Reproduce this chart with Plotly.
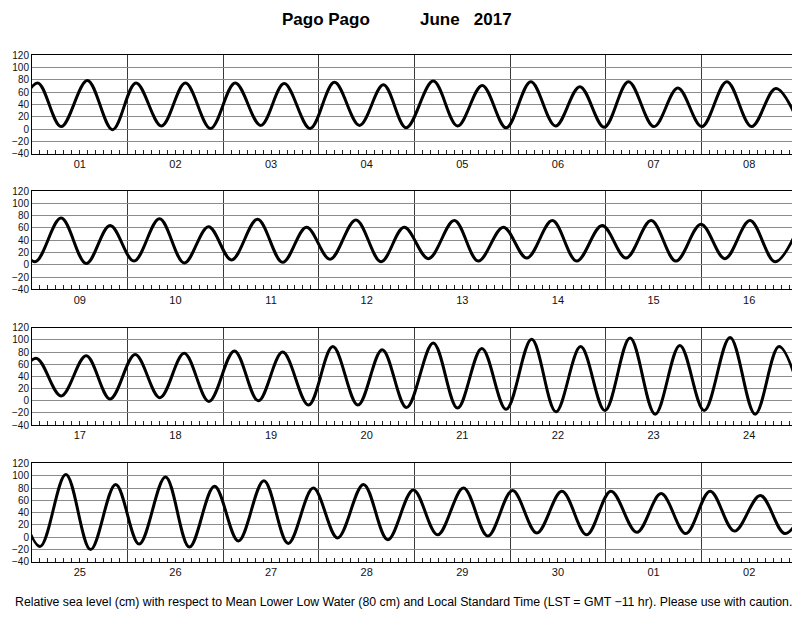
import pandas as pd
import plotly.graph_objects as go

# ---- data: tide extrema (hours after 2017-06-01 00:00 LST, height in cm) ----
start_date = "2017-06-01"
hours_days_01_08 = [-4.8, 1.4, 7.3, 13.9, 20.2, 26.1, 32.5, 38.5, 44.8, 51.0, 57.4, 63.3, 69.8,
                    75.9, 82.2, 88.2, 93.9, 100.7, 106.8, 113.0, 119.0, 125.2, 131.4, 137.5,
                    143.6, 149.7, 156.1, 162.1, 168.1, 174.4, 180.6, 186.7]
cm_days_01_08 = [2, 75, 4, 79, -1, 75, 5, 75, 1, 75, 6, 74, 1,
                 76, 6, 72, 2, 78, 5, 71, 2, 77, 5, 69,
                 3, 77, 4, 67, 4, 77, 4, 66]
hours_days_09_16 = [192.75, 199.3, 205.6, 211.6, 217.6, 224.0, 230.2, 236.3, 242.1, 248.6,
                    254.9, 260.9, 266.8, 273.3, 279.6, 285.4, 291.5, 298.0, 304.0, 310.3,
                    316.2, 322.6, 328.7, 335.1, 341.1, 347.4, 353.6, 359.9, 365.9, 372.2, 378.5]
cm_days_09_16 = [5, 76, 2, 64, 6, 75, 3, 62, 8, 74,
                 4, 61, 9, 73, 5, 61, 10, 72, 6, 61,
                 11, 72, 6, 64, 11, 72, 6, 66, 10, 72, 5]
hours_days_17_24 = [385.0, 391.3, 397.6, 403.6, 409.9, 416.1, 422.2, 428.4, 434.8, 440.8,
                    446.9, 453.4, 459.5, 465.8, 471.9, 478.0, 484.7, 490.8, 496.9, 503.0,
                    509.4, 515.5, 521.7, 527.8, 534.1, 540.4, 546.6, 552.7, 559.2, 565.5, 571.5]
cm_days_17_24 = [70, 8, 74, 3, 76, 5, 78, -1, 82, 0,
                 80, -7, 89, -7, 84, -11, 95, -12, 86, -14,
                 101, -18, 89, -16, 103, -22, 91, -16, 104, -22, 89]
hours_days_25_02 = [578.0, 584.5, 590.7, 597.0, 602.9, 609.5, 615.5, 621.8, 627.8, 634.2,
                    640.3, 646.6, 652.7, 659.2, 665.3, 671.7, 677.8, 684.3, 690.4, 696.6,
                    702.7, 709.0, 715.2, 721.3, 727.8, 733.9, 740.1, 746.2, 752.3, 758.8,
                    765.0, 771.3]
cm_days_25_02 = [-15, 102, -20, 86, -11, 98, -16, 83, -6, 92,
                 -10, 80, -1, 86, -4, 77, 4, 80, 2, 76,
                 7, 75, 4, 75, 8, 71, 6, 75, 10, 68,
                 6, 66]

panel_days = 8
title_place = "Pago Pago"
title_month = "June   2017"
footer = ("Relative sea level (cm) with respect to Mean Lower Low Water (80 cm) and Local "
          "Standard Time (LST = GMT \u221211 hr). Please use with caution.")

# ---- assemble ----
hours = hours_days_01_08 + hours_days_09_16 + hours_days_17_24 + hours_days_25_02
cms = cm_days_01_08 + cm_days_09_16 + cm_days_17_24 + cm_days_25_02
base = pd.Timestamp(start_date)
times = [base + pd.Timedelta(hours=h) for h in hours]

# the page body adds an 8 px margin, so the figure is sized to fit the window
OFF = 8
W, H = 800 - OFF, 618 - OFF
x0, x1 = (32 - OFF) / W, (797 - OFF) / W
panel_px = [(51, 151), (189, 289), (328, 427), (466, 566)]

FONT = "Liberation Sans, Arial, Helvetica, sans-serif"
fig = go.Figure()
layout = {}
for p, (top, bot) in enumerate(panel_px):
    top, bot = top - OFF, bot - OFF
    lo_h, hi_h = p * panel_days * 24, (p + 1) * panel_days * 24
    idx = [i for i, h in enumerate(hours) if lo_h <= h <= hi_h]
    i0, i1 = max(idx[0] - 1, 0), min(idx[-1] + 1, len(hours) - 1)
    sfx = "" if p == 0 else str(p + 1)
    fig.add_trace(go.Scatter(
        x=times[i0:i1 + 1], y=cms[i0:i1 + 1], mode="lines",
        line=dict(color="black", width=3, shape="spline", smoothing=1.0),
        xaxis="x" + sfx, yaxis="y" + sfx, showlegend=False, hoverinfo="skip"))
    layout["xaxis" + sfx] = dict(
        type="date", domain=[x0, x1], anchor="y" + sfx,
        range=[base + pd.Timedelta(hours=lo_h), base + pd.Timedelta(hours=hi_h)],
        dtick=86400000, tick0=start_date, tickformat="%d", ticklabelmode="period",
        ticks="", showgrid=True, gridcolor="#3a3a3a", gridwidth=1,
        showline=True, linecolor="black", linewidth=1, mirror=True,
        tickfont=dict(family=FONT, size=11, color="#111"),
        minor=dict(dtick=7200000, tick0=start_date, ticks="inside", ticklen=4,
                   tickcolor="#222", tickwidth=1, showgrid=False),
        zeroline=False, fixedrange=True)
    layout["yaxis" + sfx] = dict(
        domain=[1 - bot / H, 1 - top / H], anchor="x" + sfx,
        range=[-40, 120], dtick=20, tick0=0, ticks="",
        showgrid=True, gridcolor="#8c8c8c", gridwidth=1, zeroline=False,
        showline=True, linecolor="black", linewidth=1, mirror=True,
        tickfont=dict(family=FONT, size=10, color="#111"), fixedrange=True)

fig.update_layout(
    width=W, height=H, margin=dict(l=0, r=0, t=0, b=0),
    paper_bgcolor="white", plot_bgcolor="white",
    font=dict(family=FONT, color="#111"),
    annotations=[
        dict(text="<b>%s</b>" % title_place, x=(326 - OFF) / W, y=1 - (15 - OFF) / H,
             xref="paper", yref="paper", showarrow=False,
             font=dict(size=17, family=FONT, color="black"),
             xanchor="center", yanchor="middle"),
        dict(text="<b>%s</b>" % title_month, x=(466 - OFF) / W, y=1 - (15 - OFF) / H,
             xref="paper", yref="paper", showarrow=False,
             font=dict(size=17, family=FONT, color="black"),
             xanchor="center", yanchor="middle"),
        dict(text=footer, x=(403 - OFF) / W, y=1 - (607 - OFF) / H,
             xref="paper", yref="paper", showarrow=False,
             font=dict(size=12.3, family=FONT, color="black"),
             xanchor="center", yanchor="middle"),
    ],
    **layout)

fig.write_html("out.html")
